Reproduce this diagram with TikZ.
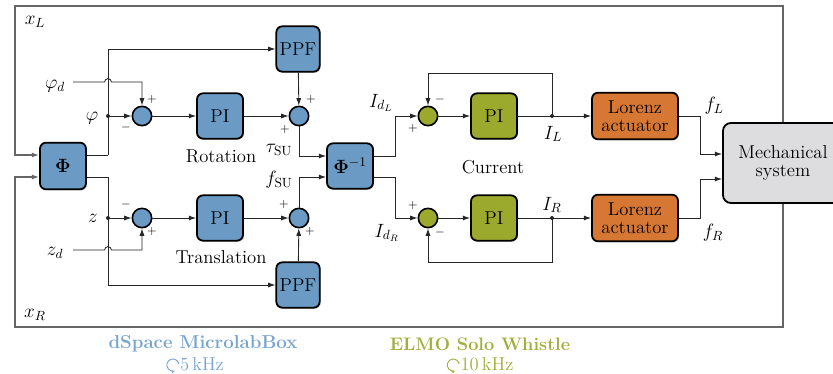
\documentclass[tikz,border=0pt]{standalone}
\usetikzlibrary{arrows.meta,shadows,calc}

\definecolor{dsblue}{HTML}{6B9BC5}
\definecolor{elmogreen}{HTML}{9BA92C}
\definecolor{lorenzorange}{HTML}{D67733}
\definecolor{mechgray}{HTML}{DDDDDF}
\definecolor{dstext}{HTML}{78A5CF}
\definecolor{elmotext}{HTML}{A0AE3A}

\tikzset{
  every node/.style={font=\fontsize{14}{12}\selectfont},
  blk/.style={draw=black, line width=1.35pt, rounded corners=4.5pt,
    minimum width=34.5pt, minimum height=34pt, inner sep=0pt, align=center,
    drop shadow={shadow xshift=0.9pt, shadow yshift=-0.9pt, opacity=0.3}},
  twoline/.style={font=\fontsize{14}{13.4}\selectfont},
  dsblk/.style={blk, fill=dsblue},
  elblk/.style={blk, fill=elmogreen},
  sumc/.style={circle, draw=black, line width=1.2pt, minimum size=14.5pt,
    inner sep=0pt, drop shadow={shadow xshift=0.6pt, shadow yshift=-0.6pt, opacity=0.25}},
  dssum/.style={sumc, fill=dsblue},
  elsum/.style={sumc, fill=elmogreen},
  wire/.style={line width=0.65pt, draw=black!85},
  arr/.style={wire, -{Latex[length=5.5pt,width=3.8pt]}},
  frame/.style={line width=1pt, draw=black!60},
  sgn/.style={font=\fontsize{9}{9}\selectfont, inner sep=0pt},
  lbl/.style={inner sep=0pt},
  dot/.style={fill=black!85}
}

\begin{document}
\begin{tikzpicture}[x=0.75pt, y=-0.75pt]
\useasboundingbox (0,0) rectangle (833,374);

% ---- blocks ----
\node[dsblk, minimum height=35pt] (phi) at (63,166) {$\mathbf{\Phi}$};
\node[dsblk, minimum width=32.5pt] (ppfT) at (298,49) {PPF};
\node[dsblk, minimum width=32.5pt] (ppfB) at (298,285) {PPF};
\node[dsblk] (piRot) at (220,116) {PI};
\node[dsblk] (piTr) at (220,218) {PI};
\node[dsblk] (phiinv) at (350,166) {$\mathbf{\Phi}^{-1}$};
\node[dssum] (sumPhi) at (142,116) {};
\node[dssum] (sumTau) at (299,116) {};
\node[dssum] (sumZ) at (142,218) {};
\node[dssum] (sumF) at (299,218) {};

\node[elblk] (piL) at (494,116) {PI};
\node[elblk] (piR) at (494,218) {PI};
\node[elsum] (sumIL) at (428,116) {};
\node[elsum] (sumIR) at (428,218) {};

\node[blk, twoline, fill=lorenzorange, minimum width=64.5pt, minimum height=35pt] (lorL) at (635,116) {Lorenz\\actuator};
\node[blk, twoline, fill=lorenzorange, minimum width=64.5pt, minimum height=35pt] (lorR) at (635,218) {Lorenz\\actuator};

% ---- outer feedback frame (behind the mechanical system) ----
\coordinate (frTL) at (15,6);
\coordinate (frBL) at (15,327);
\coordinate (mechTop) at (783,123);
\coordinate (mechBot) at (783,203);
\draw[frame, -{Latex[length=5.5pt,width=3.8pt]}] (mechTop) |- (frTL) |- ($(phi.west)+(0,-11)$);
\draw[frame, -{Latex[length=5.5pt,width=3.8pt]}] (mechBot) |- (frBL) |- ($(phi.west)+(0,11)$);

\node[blk, twoline, fill=mechgray, minimum width=90pt, minimum height=60pt, rounded corners=6pt] (mech) at (783,163) {Mechanical\\system};

% ---- Phi outputs ----
\coordinate (brT) at (108,155);
\coordinate (brB) at (108,177);
\coordinate (dPhi) at (108,116);
\coordinate (dZ) at (108,218);
\draw[wire] ($(phi.east)+(0,-11)$) -- (brT);
\draw[arr] (brT) |- (ppfT.west);
\draw[wire] ($(phi.east)+(0,11)$) -- (brB);
\draw[arr] (brB) |- (ppfB.west);
\fill[dot] (dPhi) circle (1.5pt);
\fill[dot] (dZ) circle (1.5pt);
\draw[arr] (dPhi) -- (sumPhi.west);
\draw[arr] (dZ) -- (sumZ.west);

% ---- set points, hopping over the branch column ----
\coordinate (phidS) at (73,82);
\coordinate (zdS) at (73,250);
\draw[arr] (phidS) -- ($(dPhi |- phidS)+(-3.4,0)$) arc[start angle=180, end angle=0, radius=2.55pt]
  -- (sumPhi.north |- phidS) -- (sumPhi.north);
\draw[arr] (zdS) -- ($(dZ |- zdS)+(-3.4,0)$) arc[start angle=180, end angle=0, radius=2.55pt]
  -- (sumZ.south |- zdS) -- (sumZ.south);

% ---- position loops ----
\draw[arr] (sumPhi) -- (piRot);
\draw[arr] (piRot) -- (sumTau);
\draw[arr] (ppfT) -- (sumTau);
\draw[arr] (sumTau.south) |- ($(phiinv.west)+(0,-10)$);
\draw[arr] (sumZ) -- (piTr);
\draw[arr] (piTr) -- (sumF);
\draw[arr] (ppfB) -- (sumF);
\draw[arr] (sumF.north) |- ($(phiinv.west)+(0,11)$);

% ---- current loops ----
\draw[arr] ($(phiinv.east)+(0,-10)$) -- ++(22,0) |- (sumIL.west);
\draw[arr] ($(phiinv.east)+(0,11)$) -- ++(22,0) |- (sumIR.west);
\draw[arr] (sumIL) -- (piL);
\draw[arr] (sumIR) -- (piR);
\coordinate (dIL) at (552,116);
\coordinate (dIR) at (552,218);
\draw[arr] (piL) -- (lorL);
\draw[arr] (piR) -- (lorR);
\fill[dot] (dIL) circle (1.5pt);
\fill[dot] (dIR) circle (1.5pt);
\draw[arr] (dIL) -- ++(0,-43) -| (sumIL.north);
\draw[arr] (dIR) -- ++(0,44) -| (sumIR.south);

% ---- actuators to plant ----
\draw[arr] (lorL.east) -- ++(22,0) |- ($(mech.west)+(0,-9)$);
\draw[arr] (lorR.east) -- ++(22,0) |- ($(mech.west)+(0,16)$);

% ---- signal labels ----
\node[lbl] (xL) at (35,22) {$x_L$};
\node[lbl] (xR) at (35,315) {$x_R$};
\node[lbl] (phid) at (55,86) {$\varphi_d$};
\node[lbl] (phil) at (92,118) {$\varphi$};
\node[lbl] (zl) at (93,218) {$z$};
\node[lbl] (zd) at (55,253) {$z_d$};
\node[lbl] (tau) at (279,150) {$\tau_{\mathrm{SU}}$};
\node[lbl] (fsu) at (279,180) {$f_{\mathrm{SU}}$};
\node[lbl] (IdL) at (381,103) {$I_{d_L}$};
\node[lbl] (IdR) at (387,233) {$I_{d_R}$};
\node[lbl] (IL) at (553,134) {$I_L$};
\node[lbl] (IR) at (552,205) {$I_R$};
\node[lbl] (fL) at (714,106) {$f_L$};
\node[lbl] (fR) at (713,233) {$f_R$};

\node[lbl] (rot) at (221,156) {Rotation};
\node[lbl] (trans) at (221,257) {Translation};
\node[lbl] (cur) at (493,167) {Current};

% ---- summation signs ----
\node[sgn] (s1a) at (152,100) {$+$};
\node[sgn] (s1b) at (126,128) {$-$};
\node[sgn] (s2a) at (311,100) {$+$};
\node[sgn] (s2b) at (285,130) {$+$};
\node[sgn] (s3a) at (126,205) {$-$};
\node[sgn] (s3b) at (152,232) {$+$};
\node[sgn] (s4a) at (284,205) {$+$};
\node[sgn] (s4b) at (310,232) {$+$};
\node[sgn] (s5a) at (413,129) {$+$};
\node[sgn] (s5b) at (440,100) {$-$};
\node[sgn] (s6a) at (413,206) {$+$};
\node[sgn] (s6b) at (440,233) {$-$};

% ---- hardware captions ----
\node[lbl, text=dstext, font=\fontsize{14}{12}\selectfont\bfseries] (dsp) at (203,344) {dSpace MicrolabBox};
\node[lbl, text=dstext] (dsf) at (202,364) {5\,kHz};
\draw[dstext, line width=0.7pt, -{Latex[length=2.4pt,width=2.4pt]}] ($(dsf.west)+(-7,-1)$) ++(10:6) arc[start angle=10, end angle=290, radius=4.5pt];
\node[lbl, text=elmotext, font=\fontsize{13.6}{12}\selectfont\bfseries] (elmo) at (480,344) {ELMO Solo Whistle};
\node[lbl, text=elmotext] (elf) at (487,364) {10\,kHz};
\draw[elmotext, line width=0.7pt, -{Latex[length=2.4pt,width=2.4pt]}] ($(elf.west)+(-7,-1)$) ++(10:6) arc[start angle=10, end angle=290, radius=4.5pt];

\end{tikzpicture}
\end{document}
